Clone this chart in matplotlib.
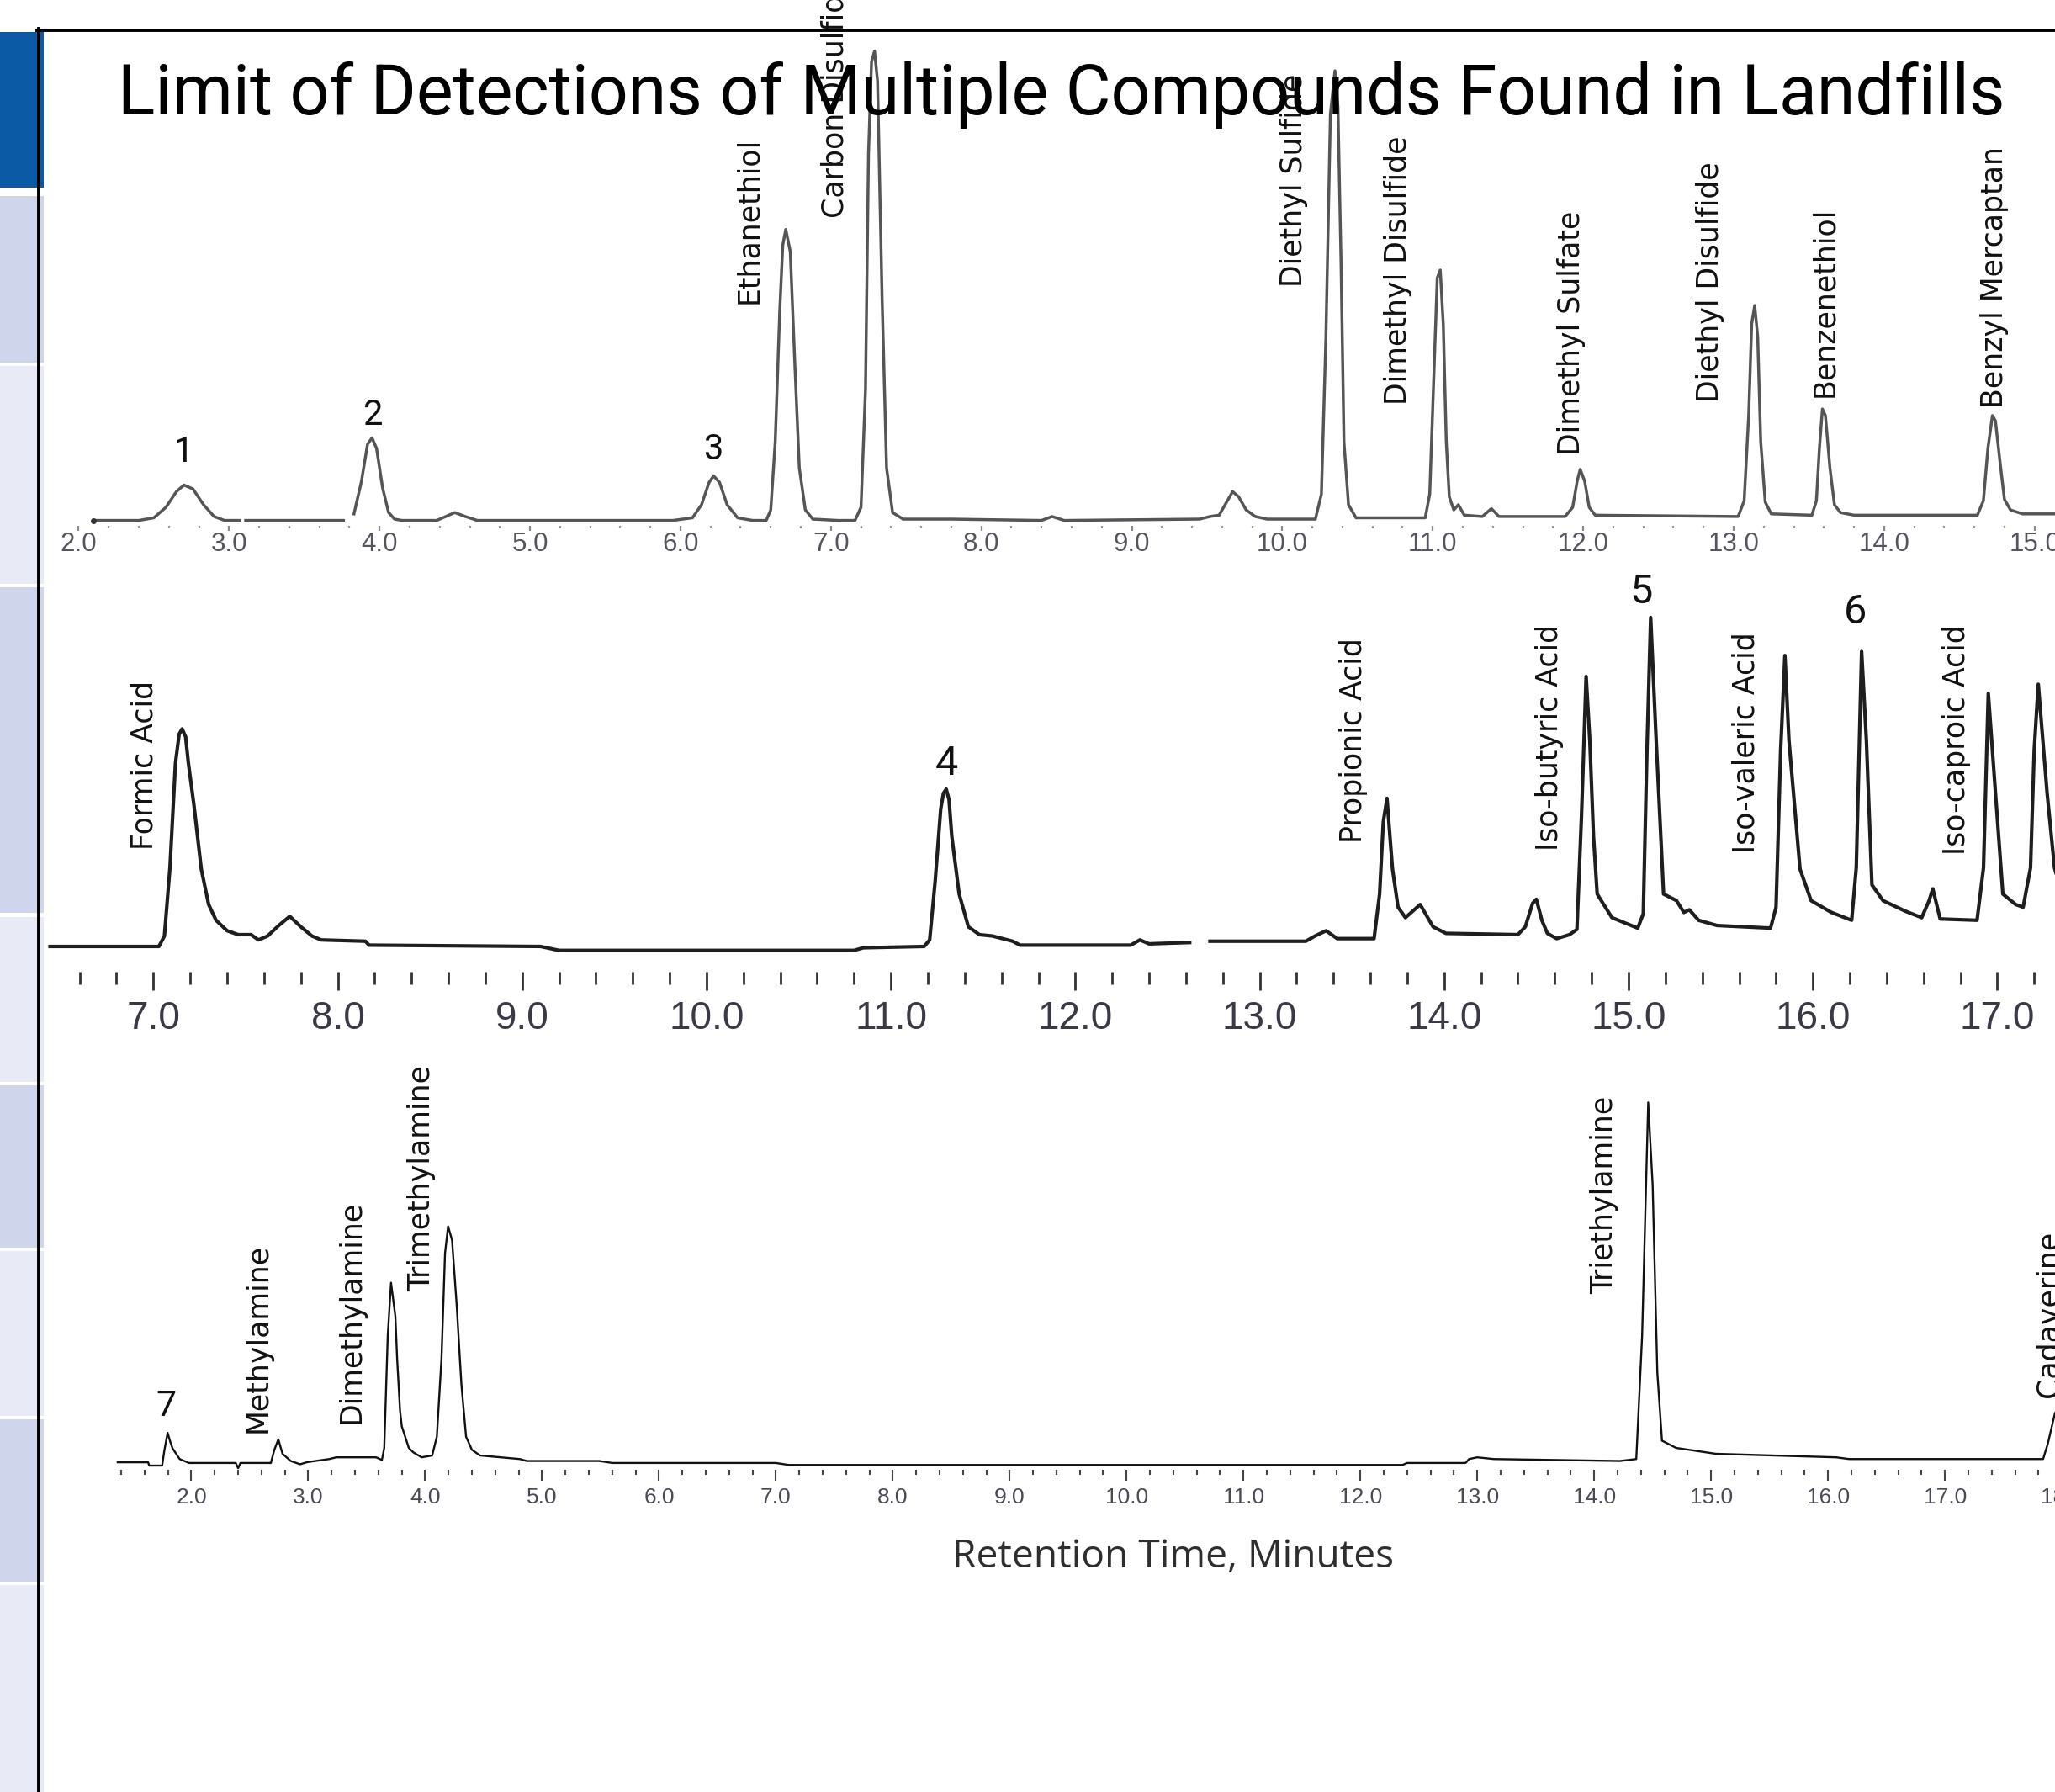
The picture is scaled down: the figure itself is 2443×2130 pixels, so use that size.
import matplotlib
matplotlib.use("Agg")
import matplotlib.pyplot as plt
import numpy as np
from matplotlib import font_manager
from matplotlib.patches import Rectangle
from matplotlib.lines import Line2D
from matplotlib.ticker import FixedLocator, FormatStrFormatter

nan = np.nan

# ---------------- data (retention time in minutes, detector response in arbitrary units)
# top trace: sulfur compounds
sulfur_time = [2.10, 2.40, 2.50, 2.58, 2.65, 2.70, 2.76, 2.83, 2.90, 2.97, 3.07, nan,
               3.11, 3.76, nan,
               3.83, 3.88, 3.92, 3.95, 3.98, 4.02, 4.06, 4.10, 4.15, 4.38, 4.44, 4.50, 4.57, 4.65,
               5.95, 6.08, 6.14, 6.19, 6.22, 6.26, 6.31, 6.38, 6.48,
               6.57, 6.60, 6.63, 6.66, 6.68, 6.70, 6.73, 6.76, 6.79, 6.83, 6.88, 7.05,
               7.16, 7.20, 7.23, 7.25, 7.27, 7.29, 7.31, 7.34, 7.37, 7.41, 7.48, 7.80,
               8.40, 8.47, 8.55, 9.45, 9.52, 9.58, 9.63, 9.67, 9.71, 9.76, 9.82, 9.90,
               10.22, 10.26, 10.29, 10.32, 10.35, 10.37, 10.39, 10.41, 10.44, 10.49,
               10.95, 10.98, 11.01, 11.03, 11.05, 11.07, 11.09, 11.11, 11.14, 11.17, 11.21,
               11.33, 11.39, 11.44, 11.88, 11.93, 11.96, 11.98, 12.01, 12.04, 12.08,
               13.03, 13.07, 13.10, 13.12, 13.14, 13.16, 13.18, 13.21, 13.25,
               13.52, 13.55, 13.57, 13.59, 13.61, 13.64, 13.67, 13.71, 13.80,
               14.62, 14.66, 14.69, 14.72, 14.74, 14.77, 14.80, 14.84, 14.92, 15.30]
sulfur_resp = [0, 0, 2, 10, 22, 27, 24, 12, 3, 0, 0, nan,
               0, 0, nan,
               5, 30, 58, 63, 55, 25, 6, 1, 0, 0, 3, 6, 3, 0,
               0, 2, 12, 29, 34, 29, 12, 2, 0,
               0, 8, 60, 160, 210, 222, 205, 120, 40, 8, 1, 0,
               0, 10, 100, 280, 350, 358, 335, 170, 40, 6, 1, 1,
               0, 3, 0, 1, 3, 4, 14, 22, 18, 8, 3, 1,
               1, 20, 140, 310, 343, 315, 200, 60, 12, 2,
               2, 20, 120, 185, 191, 150, 60, 18, 8, 12, 4,
               3, 9, 3, 3, 10, 30, 39, 30, 10, 4,
               3, 15, 80, 150, 164, 140, 60, 14, 5,
               4, 15, 55, 85, 80, 40, 12, 6, 4,
               4, 15, 55, 80, 76, 45, 16, 8, 5, 5]
sulfur_names = ["Ethanethiol", "Carbon Disulfide", "Diethyl Sulfide", "Dimethyl Disulfide",
                "Dimethyl Sulfate", "Diethyl Disulfide", "Benzenethiol", "Benzyl Mercaptan"]
sulfur_name_time = [6.456, 7.026, 10.075, 10.772, 11.922, 12.845, 13.603, 14.735]
sulfur_name_resp = [165, 231, 178, 88, 50, 90, 94, 86]
sulfur_nums = ["1", "2", "3"]
sulfur_num_time = [2.70, 3.955, 6.216]
sulfur_num_resp = [52, 80, 54]

# middle trace: volatile fatty acids
acid_time = [6.44, 7.03, 7.06, 7.09, 7.12, 7.14, 7.156, 7.175, 7.19, 7.22, 7.26, 7.30, 7.34,
             7.40, 7.46, 7.53, 7.57, 7.62, 7.68, 7.74, 7.80, 7.86, 7.91, 8.15, 8.17, 9.10,
             9.20, 10.80, 10.85, 11.18, 11.21, 11.24, 11.27, 11.285, 11.30, 11.315, 11.33,
             11.37, 11.42, 11.48, 11.55, 11.66, 11.70, 12.30, 12.35, 12.40, 12.62, nan,
             12.73, 13.25, 13.30, 13.36, 13.42, 13.62, 13.65, 13.67, 13.69, 13.72, 13.75,
             13.79, 13.83, 13.87, 13.94, 14.01, 14.40, 14.44, 14.48, 14.50, 14.53, 14.56,
             14.61, 14.68, 14.72, 14.745, 14.77, 14.79, 14.81, 14.83, 14.91, 15.05, 15.08,
             15.10, 15.12, 15.15, 15.19, 15.26, 15.30, 15.33, 15.38, 15.48, 15.77, 15.80,
             15.825, 15.848, 15.87, 15.93, 15.99, 16.10, 16.21, 16.235, 16.264, 16.29,
             16.32, 16.38, 16.50, 16.59, 16.63, 16.65, 16.69, 16.89, 16.925, 16.951,
             16.99, 17.03, 17.10, 17.14, 17.18, 17.20, 17.222, 17.27, 17.31, 17.36, 17.45]
acid_resp = [0, 0, 8, 60, 140, 162, 166, 160, 140, 108, 59, 32, 20,
             12, 9, 9, 5, 8, 16, 23, 15, 8, 5, 4, 1, 0,
             -3, -3, -1, 0, 5, 50, 105, 117, 120, 112, 84,
             40, 15, 9, 8, 4, 1, 1, 5, 2, 3, nan,
             4, 4, 8, 12, 6, 6, 40, 95, 113, 59, 30,
             22, 27, 32, 15, 10, 9, 15, 33, 36, 20, 10,
             6, 9, 13, 100, 206, 157, 84, 40, 22, 14, 25,
             150, 251, 157, 40, 35, 26, 28, 20, 16, 14, 30,
             150, 222, 157, 59, 35, 26, 20, 60, 225, 157,
             47, 35, 27, 22, 35, 44, 21, 20, 60, 193,
             117, 40, 32, 30, 60, 150, 200, 117, 60, 35, 28]
acid_names = ["Formic Acid", "Propionic Acid", "Iso-butyric Acid", "Iso-valeric Acid",
              "Iso-caproic Acid"]
acid_name_time = [6.95, 13.51, 14.57, 15.635, 16.78]
acid_name_resp = [74, 79, 73, 71, 70]
acid_nums = ["4", "5", "6"]
acid_num_time = [11.30, 15.07, 16.23]
acid_num_resp = [139, 270, 255]

# bottom trace: amines
amine_time = [1.37, 1.63, 1.64, 1.75, 1.77, 1.797, 1.82, 1.84, 1.90, 1.98, 2.38, 2.40, 2.42,
              2.68, 2.71, 2.744, 2.78, 2.85, 2.93, 2.99, 3.18, 3.24, 3.58, 3.63, 3.65, 3.68,
              3.708, 3.745, 3.76, 3.785, 3.80, 3.86, 3.90, 3.97, 4.06, 4.10, 4.14, 4.17,
              4.196, 4.23, 4.27, 4.31, 4.35, 4.40, 4.47, 4.81, 4.87, 5.49, 5.60, 7.00, 7.11,
              12.36, 12.40, 12.90, 12.93, 13.00, 13.14, 14.22, 14.36, 14.41, 14.462, 14.50,
              14.54, 14.58, 14.70, 15.04, 16.07, 16.18, 17.84, 17.88, 17.94, 17.98]
amine_resp = [0.5, 0.5, -2, -2, 10, 23, 16, 11, 3, 0, 0, -4, 0,
              0, 10, 18, 7, 1.5, -1, 0.6, 3, 4.3, 4.3, 2.3, 11.5, 97,
              137.5, 112, 80, 40, 28, 11.5, 8, 4.3, 5.7, 20, 80, 160,
              180.5, 170, 120, 60, 20, 10, 5.7, 3, 1.5, 1.5, 0, 0, -1.5,
              -1.5, 0, 0, 3, 4.3, 3, 1.5, 3, 97, 275, 212,
              69, 17, 11.5, 7, 4.3, 3, 3, 14.6, 37.5, 45]
amine_names = ["Methylamine", "Dimethylamine", "Trimethylamine", "Triethylamine", "Cadaverine"]
amine_name_time = [2.57, 3.37, 3.97, 14.085, 17.886]
amine_name_resp = [23, 30, 131, 129, 50]
amine_nums = ["7"]
amine_num_time = [1.787]
amine_num_resp = [43]

title = "Limit of Detections of Multiple Compounds Found in Landfills"
xlabel = "Retention Time, Minutes"

# ---------------- fonts
names = {f.name for f in font_manager.fontManager.ttflist}
HAS_NARROW = "Liberation Sans Narrow" in names
LBL = ["DejaVu Sans"]
NUM = ["Roboto", "DejaVu Sans"]

# ---------------- figure (layout measured on a 1568 x 1367 grid)
GW, GH = 1568.0, 1367.0
fig = plt.figure(figsize=(24.43, 21.30), dpi=100)
fig.patch.set_facecolor("white")


def fx(x):
    return x / GW


def fy(y):
    return 1 - y / GH


# table strip on the left
cells = [(24.4, 143.1, "#0b5aa6"), (149.5, 276.6, "#cfd5ea"), (279.2, 445.4, "#e8ebf5"),
         (448.0, 696.4, "#cfd5ea"), (699.6, 825.4, "#e8ebf5"), (828.0, 951.8, "#cfd5ea"),
         (954.4, 1080.2, "#e8ebf5"), (1082.8, 1206.7, "#cfd5ea"), (1209.2, 1367.0, "#e8ebf5")]
for top, bot, col in cells:
    fig.add_artist(Rectangle((0, fy(bot)), fx(33.5), fy(top) - fy(bot),
                             transform=fig.transFigure, facecolor=col, edgecolor="none"))
fig.add_artist(Line2D([fx(28), 1], [fy(23), fy(23)], transform=fig.transFigure,
                      color="black", lw=2.8))
fig.add_artist(Line2D([fx(29.5), fx(29.5)], [fy(22), 0], transform=fig.transFigure,
                      color="black", lw=2.8))


def panel(y_top, y_bot, y_base, t0, x0, ppm, t_first, t_last):
    xr = 1720.0
    ax = fig.add_axes([0, fy(y_bot), xr / GW, (y_bot - y_top) / GH])
    ax.set_xlim(t0 - x0 / ppm, t0 + (xr - x0) / ppm)
    ax.set_ylim(y_base - y_bot, y_base - y_top)
    ax.patch.set_alpha(0)
    for s in ax.spines.values():
        s.set_visible(False)
    ax.set_yticks([])
    ax.xaxis.set_major_locator(FixedLocator(np.arange(np.ceil(t_first), t_last + 0.01, 1.0)))
    ax.xaxis.set_minor_locator(FixedLocator(np.arange(t_first, t_last + 0.01, 0.2)))
    ax.xaxis.set_major_formatter(FormatStrFormatter("%.1f"))
    return ax


# ---- top panel
ax1 = panel(0, 401, 397, 2.0, 60, 114.8, 2.0, 15.0)
ax1.plot(sulfur_time, sulfur_resp, color="#555555", lw=2.5, clip_on=False,
         solid_joinstyle="round")
ax1.plot(sulfur_time[:1], sulfur_resp[:1], "o", color="#333333", ms=4, clip_on=False)
ax1.tick_params(axis="x", which="major", direction="out", length=4, width=1.6,
                colors="#8a8a8a", pad=1.5)
ax1.tick_params(axis="x", which="minor", direction="out", length=2.5, width=1.6,
                colors="#9a9a9a")
for lab in ax1.get_xticklabels():
    if HAS_NARROW:
        lab.set_family("Liberation Sans Narrow")
        lab.set_fontsize(27)
    else:
        lab.set_family("Liberation Sans")
        lab.set_fontsize(22.5)
    lab.set_color("#55555f")
for name, t, r in zip(sulfur_names, sulfur_name_time, sulfur_name_resp):
    ax1.text(t, r, name, rotation=90, ha="center", va="bottom", fontsize=25,
             family=LBL, color="#111111", clip_on=False)
for name, t, r in zip(sulfur_nums, sulfur_num_time, sulfur_num_resp):
    ax1.text(t, r, name, ha="center", va="center", fontsize=30, family=NUM,
             color="#111111")

# ---- middle panel
ax2 = panel(430, 741, 722, 7.0, 117, 140.7, 6.6, 18.0)
ax2.plot(acid_time, acid_resp, color="#1e1e1e", lw=3.0, clip_on=False,
         solid_joinstyle="round")
ax2.tick_params(axis="x", which="major", direction="out", length=15.5, width=2.0,
                colors="#333333", pad=9)
ax2.tick_params(axis="x", which="minor", direction="out", length=11, width=2.0,
                colors="#333333")
for lab in ax2.get_xticklabels():
    lab.set_family("Liberation Sans")
    lab.set_fontsize(33)
    lab.set_color("#3a3a46")
for name, t, r in zip(acid_names, acid_name_time, acid_name_resp):
    ax2.text(t, r, name, rotation=90, ha="center", va="bottom", fontsize=25,
             family=LBL, color="#111111", clip_on=False)
for name, t, r in zip(acid_nums, acid_num_time, acid_num_resp):
    ax2.text(t, r, name, ha="center", va="center", fontsize=35, family=NUM,
             color="#111111")

# ---- bottom panel
ax3 = panel(800, 1121, 1116, 2.0, 146, 89.2, 1.4, 18.0)
ax3.plot(amine_time, amine_resp, color="#111111", lw=1.7, clip_on=False,
         solid_joinstyle="round")
ax3.tick_params(axis="x", which="major", direction="out", length=9, width=1.5,
                colors="#444444", pad=6)
ax3.tick_params(axis="x", which="minor", direction="out", length=4.5, width=1.5,
                colors="#444444")
for lab in ax3.get_xticklabels():
    lab.set_family("Liberation Sans")
    lab.set_fontsize(19)
    lab.set_color("#4a4a56")
for name, t, r in zip(amine_names, amine_name_time, amine_name_resp):
    ax3.text(t, r, name, rotation=90, ha="center", va="bottom", fontsize=25,
             family=LBL, color="#111111", clip_on=False)
for name, t, r in zip(amine_nums, amine_num_time, amine_num_resp):
    ax3.text(t, r, name, ha="center", va="center", fontsize=31, family=NUM,
             color="#111111")

# ---- titles, fitted to the measured widths
renderer = fig.canvas.get_renderer()


def fit(txt, width_grid):
    w = txt.get_window_extent(renderer).width
    txt.set_fontsize(txt.get_fontsize() * width_grid * (2443 / GW) / w)


t_title = fig.text(fx(810), fy(87), title, ha="center", va="baseline", fontsize=60,
                   family=NUM, color="black", zorder=10)
fit(t_title, 1440)
t_xlab = fig.text(fx(895), fy(1188), xlabel, ha="center", va="center", fontsize=30,
                  family=["Open Sans", "DejaVu Sans"], color="#2e2e2e")
fit(t_xlab, 337)

fig.savefig("out.png", dpi=100)
